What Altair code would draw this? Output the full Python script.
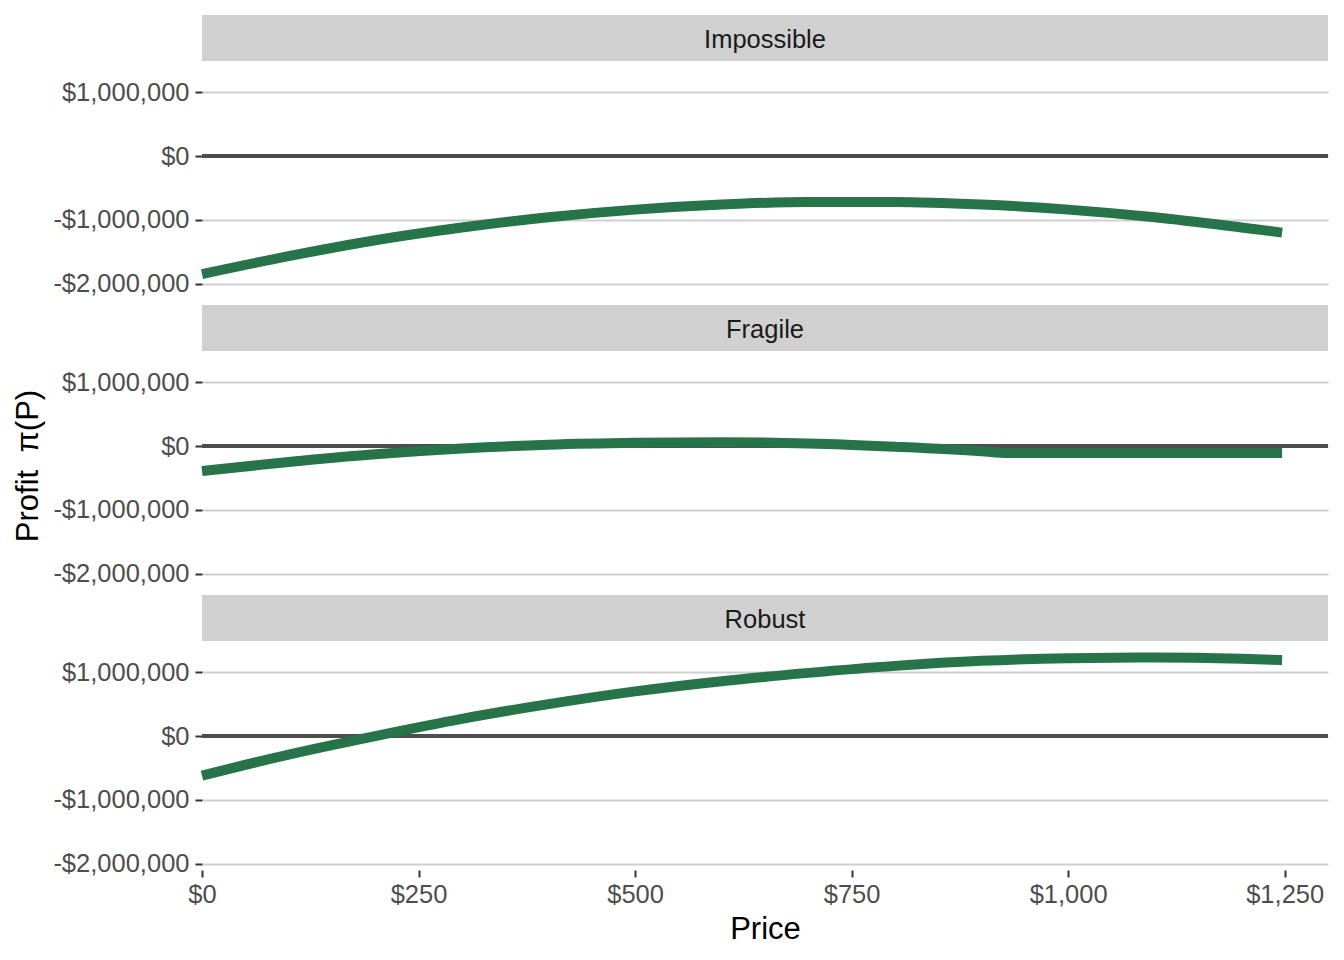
import altair as alt
import pandas as pd

# ---- data ----
scenarios = ["Impossible", "Fragile", "Robust"]

price_main = [0, 100, 200, 300, 400, 500, 600, 700, 800, 900, 1000, 1100, 1200, 1247]
profit_impossible = [-1.85, -1.57, -1.32, -1.12, -0.96, -0.84, -0.76, -0.72, -0.72, -0.76, -0.84, -0.96, -1.12, -1.20]
profit_robust = [-0.62, -0.29, 0.00, 0.27, 0.50, 0.70, 0.86, 0.99, 1.10, 1.18, 1.22, 1.23, 1.21, 1.19]

price_fragile = [0, 100, 200, 300, 400, 500, 600, 700, 800, 900, 930, 1000, 1100, 1200, 1247]
profit_fragile = [-0.39, -0.25, -0.13, -0.04, 0.02, 0.05, 0.06, 0.04, -0.01, -0.08, -0.11, -0.11, -0.11, -0.11, -0.11]

y_ticks = [-2000000, -1000000, 0, 1000000]
x_ticks = [0, 250, 500, 750, 1000, 1250]

rows = []
for p, v in zip(price_main, profit_impossible):
    rows.append({"scenario": "Impossible", "price": p, "profit": v * 1e6})
for p, v in zip(price_fragile, profit_fragile):
    rows.append({"scenario": "Fragile", "price": p, "profit": v * 1e6})
for p, v in zip(price_main, profit_robust):
    rows.append({"scenario": "Robust", "price": p, "profit": v * 1e6})
df = pd.DataFrame(rows)

W = 1126
PH = 229
STRIP = 46
GAP = 15
FONT = "Liberation Sans"
GREEN = "#27744A"

y_label_expr = "(datum.value < 0 ? '-' : '') + '$' + format(abs(datum.value), ',.0f')"
x_label_expr = "'$' + format(datum.value, ',.0f')"


def strip(name, gap):
    base = alt.Chart(alt.Data(values=[{"s": name}]))
    rect = base.mark_rect(color="#D0D0D0").encode(
        x=alt.value(0), x2=alt.value(W), y=alt.value(gap), y2=alt.value(gap + STRIP)
    )
    txt = base.mark_text(font=FONT, fontSize=25.5, color="#1A1A1A", baseline="middle", align="center").encode(
        x=alt.value(W / 2), y=alt.value(gap + STRIP / 2 + 2), text="s:N"
    )
    return alt.layer(rect, txt).properties(width=W, height=gap + STRIP)


def panel(name, show_x, show_title):
    sub = alt.Chart(df).transform_filter(alt.datum.scenario == name)
    x_axis = (
        alt.Axis(values=x_ticks, labelExpr=x_label_expr, title="Price", grid=False, labelFlush=False)
        if show_x
        else None
    )
    y_axis = alt.Axis(
        values=y_ticks,
        labelExpr=y_label_expr,
        title="Profit\u00a0\u00a0π(P)" if show_title else None,
        grid=True,
    )
    yscale = alt.Scale(domain=[-2100000, 1490000], nice=False, zero=False)
    x_enc = alt.X("price:Q", scale=alt.Scale(domain=[0, 1300], nice=False, zero=False), axis=x_axis)
    y_enc = alt.Y("profit:Q", scale=yscale, axis=y_axis)

    zero = sub.mark_rule(color="#4D4D4D", strokeWidth=2.5).encode(
        y=alt.Y(datum=0, type="quantitative", scale=yscale, axis=y_axis)
    )
    line = sub.mark_line(color=GREEN, strokeWidth=10, interpolate="monotone", strokeCap="butt").encode(
        x=x_enc, y=y_enc
    )
    return alt.layer(zero, line).properties(width=W, height=PH)


parts = []
for i, s in enumerate(scenarios):
    parts.append(strip(s, 0 if i == 0 else GAP))
    parts.append(panel(s, show_x=(i == 2), show_title=(i == 1)))

chart = (
    alt.vconcat(*parts, spacing=0, bounds="flush")
    .properties(padding={"left": 4, "top": 7, "right": 5, "bottom": 5})
    .configure_view(strokeWidth=0)
    .configure_axis(
        domain=False,
        gridColor="#D0D0D0",
        gridWidth=2,
        tickColor="#333333",
        tickWidth=2,
        tickSize=7,
        labelColor="#4D4D4D",
        labelFont=FONT,
        labelFontSize=25.5,
        titleFont=FONT,
        titleFontSize=31,
        titleFontWeight="normal",
        titleColor="#000000",
    )
    .configure_axisY(labelPadding=6, titlePadding=8)
    .configure_axisX(labelPadding=5, titlePadding=7)
)

chart.save("out.html", embed_options={"renderer": "svg", "actions": False})
